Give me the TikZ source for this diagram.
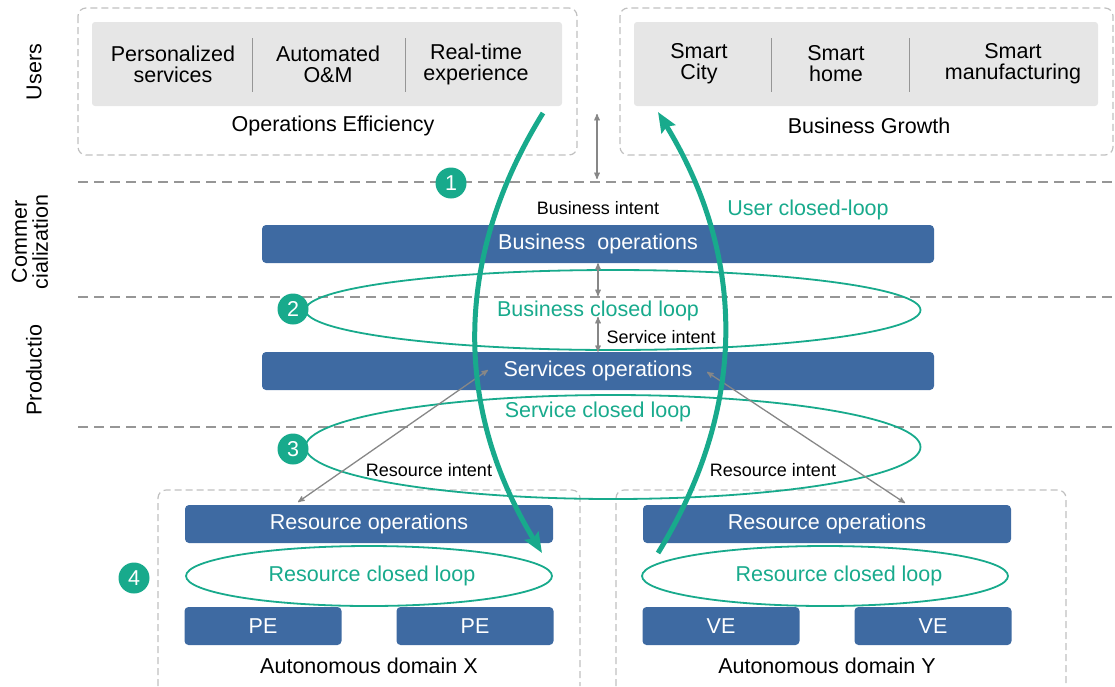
\documentclass[tikz,border=0pt]{standalone}
\usepackage{fontspec}
\setmainfont{Liberation Sans}
\usetikzlibrary{positioning,arrows,arrows.meta,shapes.geometric}
\definecolor{loopgreen}{RGB}{24,170,140}
\definecolor{opblue}{RGB}{62,106,162}
\definecolor{usergray}{RGB}{230,230,230}
\definecolor{layergray}{RGB}{150,150,150}
\definecolor{boxgray}{RGB}{192,192,192}
\definecolor{intentgray}{RGB}{135,135,135}

\begin{document}
\begin{tikzpicture}[x=1pt,y=-1pt,font=\fontsize{21.5}{21}\selectfont]
    \tikzstyle{ops}=[fill=opblue, text=white, rounded corners=4pt, minimum height=38pt, inner sep=0pt]
    \tikzstyle{loop}=[draw=loopgreen, line width=1.8pt, ellipse, inner sep=0pt]
    \tikzstyle{looptext}=[text=loopgreen, font=\fontsize{21.5}{21}\selectfont]
    \tikzstyle{badge}=[circle, fill=loopgreen, text=white, minimum size=31pt, inner sep=0pt]
    \tikzstyle{usrbox}=[fill=usergray, rounded corners=3pt, minimum height=84pt]
    \tikzstyle{item}=[align=center]
    \tikzstyle{intent}=[font=\fontsize{18}{18}\selectfont]
    \tikzstyle{area}=[draw=boxgray, dash pattern=on 7pt off 4pt, line width=1.2pt, rounded corners=8pt]
    \tikzstyle{layer}=[draw=layergray, dash pattern=on 10pt off 6pt, line width=2pt]
    \tikzstyle{sideways}=[rotate=90, align=center]
    \tikzstyle{userloop}=[draw=loopgreen, line width=5pt, -{Stealth[length=20pt,width=16pt,inset=3pt]}]
    \tikzstyle{twoway}=[draw=intentgray, line width=1.3pt, stealth'-stealth']

    \useasboundingbox (0,0) rectangle (1115,686);

    \draw[area] (78,8) rectangle (577,155);
    \draw[area] (620,8) rectangle (1113,155);
    \draw[area] (158,686) -- (158,490) -- (580,490) -- (580,686);
    \draw[area] (616,686) -- (616,490) -- (1066,490) -- (1066,686);

    \draw[layer] (78,182) -- (1115,182);
    \draw[layer] (78,297) -- (1115,297);
    \draw[layer] (78,427) -- (1115,427);

    \node[sideways] (users) at (34,72) {Users};
    \node[sideways] (commerce) at (30,242) {Commer\\cialization};
    \node[sideways] (production) at (34,370) {Productio};

    \node[usrbox, minimum width=470pt] (effbox) at (327,64) {};
    \node[item] (personal) at (173,64) {Personalized\\services};
    \node[item] (autom) at (328,64) {Automated\\O\&M};
    \node[item] (realtime) at (476,64) {Real-time\\experience};
    \node (efficiency) at (333,126) {Operations Efficiency};
    \draw[layergray, line width=1pt] (252,38) -- (252,92) (405,38) -- (405,92);

    \node[usrbox, minimum width=464pt] (growbox) at (866,64) {};
    \node[item] (city) at (699,64) {Smart\\City};
    \node[item] (home) at (836,64) {Smart\\home};
    \node[item] (manuf) at (1013,64) {Smart\\manufacturing};
    \node (growth) at (869,126) {Business Growth};
    \draw[layergray, line width=1pt] (771,38) -- (771,92) (909,38) -- (909,92);

    \node[ops, minimum width=672pt] (bizop) at (598,244) {Business\ \ operations};
    \node[ops, minimum width=672pt] (svcop) at (598,371) {Services operations};
    \node[intent] (bizint) at (598,208) {Business intent};
    \node[looptext] (usrlooptext) at (808,210) {User closed-loop};

    \node[loop, minimum width=615pt, minimum height=80pt] (bizloop) at (613,310) {};
    \node[looptext] (bizlooptext) at (598,311) {Business closed loop};
    \node[loop, minimum width=615pt, minimum height=104pt] (svcloop) at (613,447) {};
    \node[looptext] (svclooptext) at (598,412) {Service closed loop};
    \node[intent, anchor=west] (svcint) at (603,337) {Service intent};

    \node[ops, minimum width=368pt] (resopx) at (369,524) {Resource operations};
    \node[ops, minimum width=368pt] (resopy) at (827,524) {Resource operations};
    \node[loop, minimum width=366pt, minimum height=60pt] (resloopx) at (369,576) {};
    \node[loop, minimum width=366pt, minimum height=60pt] (resloopy) at (825,576) {};
    \node[looptext] at (372,576) {Resource closed loop};
    \node[looptext] at (839,576) {Resource closed loop};
    \node[ops, minimum width=157pt] (pe1) at (263,626) {PE};
    \node[ops, minimum width=157pt] (pe2) at (475,626) {PE};
    \node[ops, minimum width=157pt] (ve1) at (721,626) {VE};
    \node[ops, minimum width=157pt] (ve2) at (933,626) {VE};
    \node (domx) at (369,666) {Autonomous domain X};
    \node (domy) at (827,666) {Autonomous domain Y};

    \node[intent] (resintx) at (429,470) {Resource intent};
    \node[intent] (resinty) at (773,470) {Resource intent};

    \node[badge] (b1) at (451,183) {1};
    \node[badge] (b2) at (293,309) {2};
    \node[badge] (b3) at (293,449) {3};
    \node[badge] (b4) at (134,578) {4};

    \coordinate (usrgap) at (597,114);
    \coordinate (comtop) at (597,179);
    \coordinate (bizgap) at (598,296);
    \coordinate (svcgap) at (598,317);
    \coordinate (svcl) at (488,370);
    \coordinate (svcr) at (707,372);
    \coordinate (domxin) at (298,502);
    \coordinate (domyin) at (905,503);
    \draw[twoway] (usrgap) -- (comtop);
    \draw[twoway] (bizop.south) -- (bizgap);
    \draw[twoway] (svcgap) -- (svcop.north);
    \draw[twoway] (svcl) -- (domxin);
    \draw[twoway] (svcr) -- (domyin);

    \coordinate (effout) at (543,113);
    \coordinate (resxin) at (542,553);
    \coordinate (resyout) at (658,553);
    \coordinate (growin) at (658,112);
    \draw[userloop] (effout) .. controls (452,260) and (455,410) .. (resxin);
    \draw[userloop] (resyout) .. controls (746,410) and (748,260) .. (growin);
\end{tikzpicture}
\end{document}
